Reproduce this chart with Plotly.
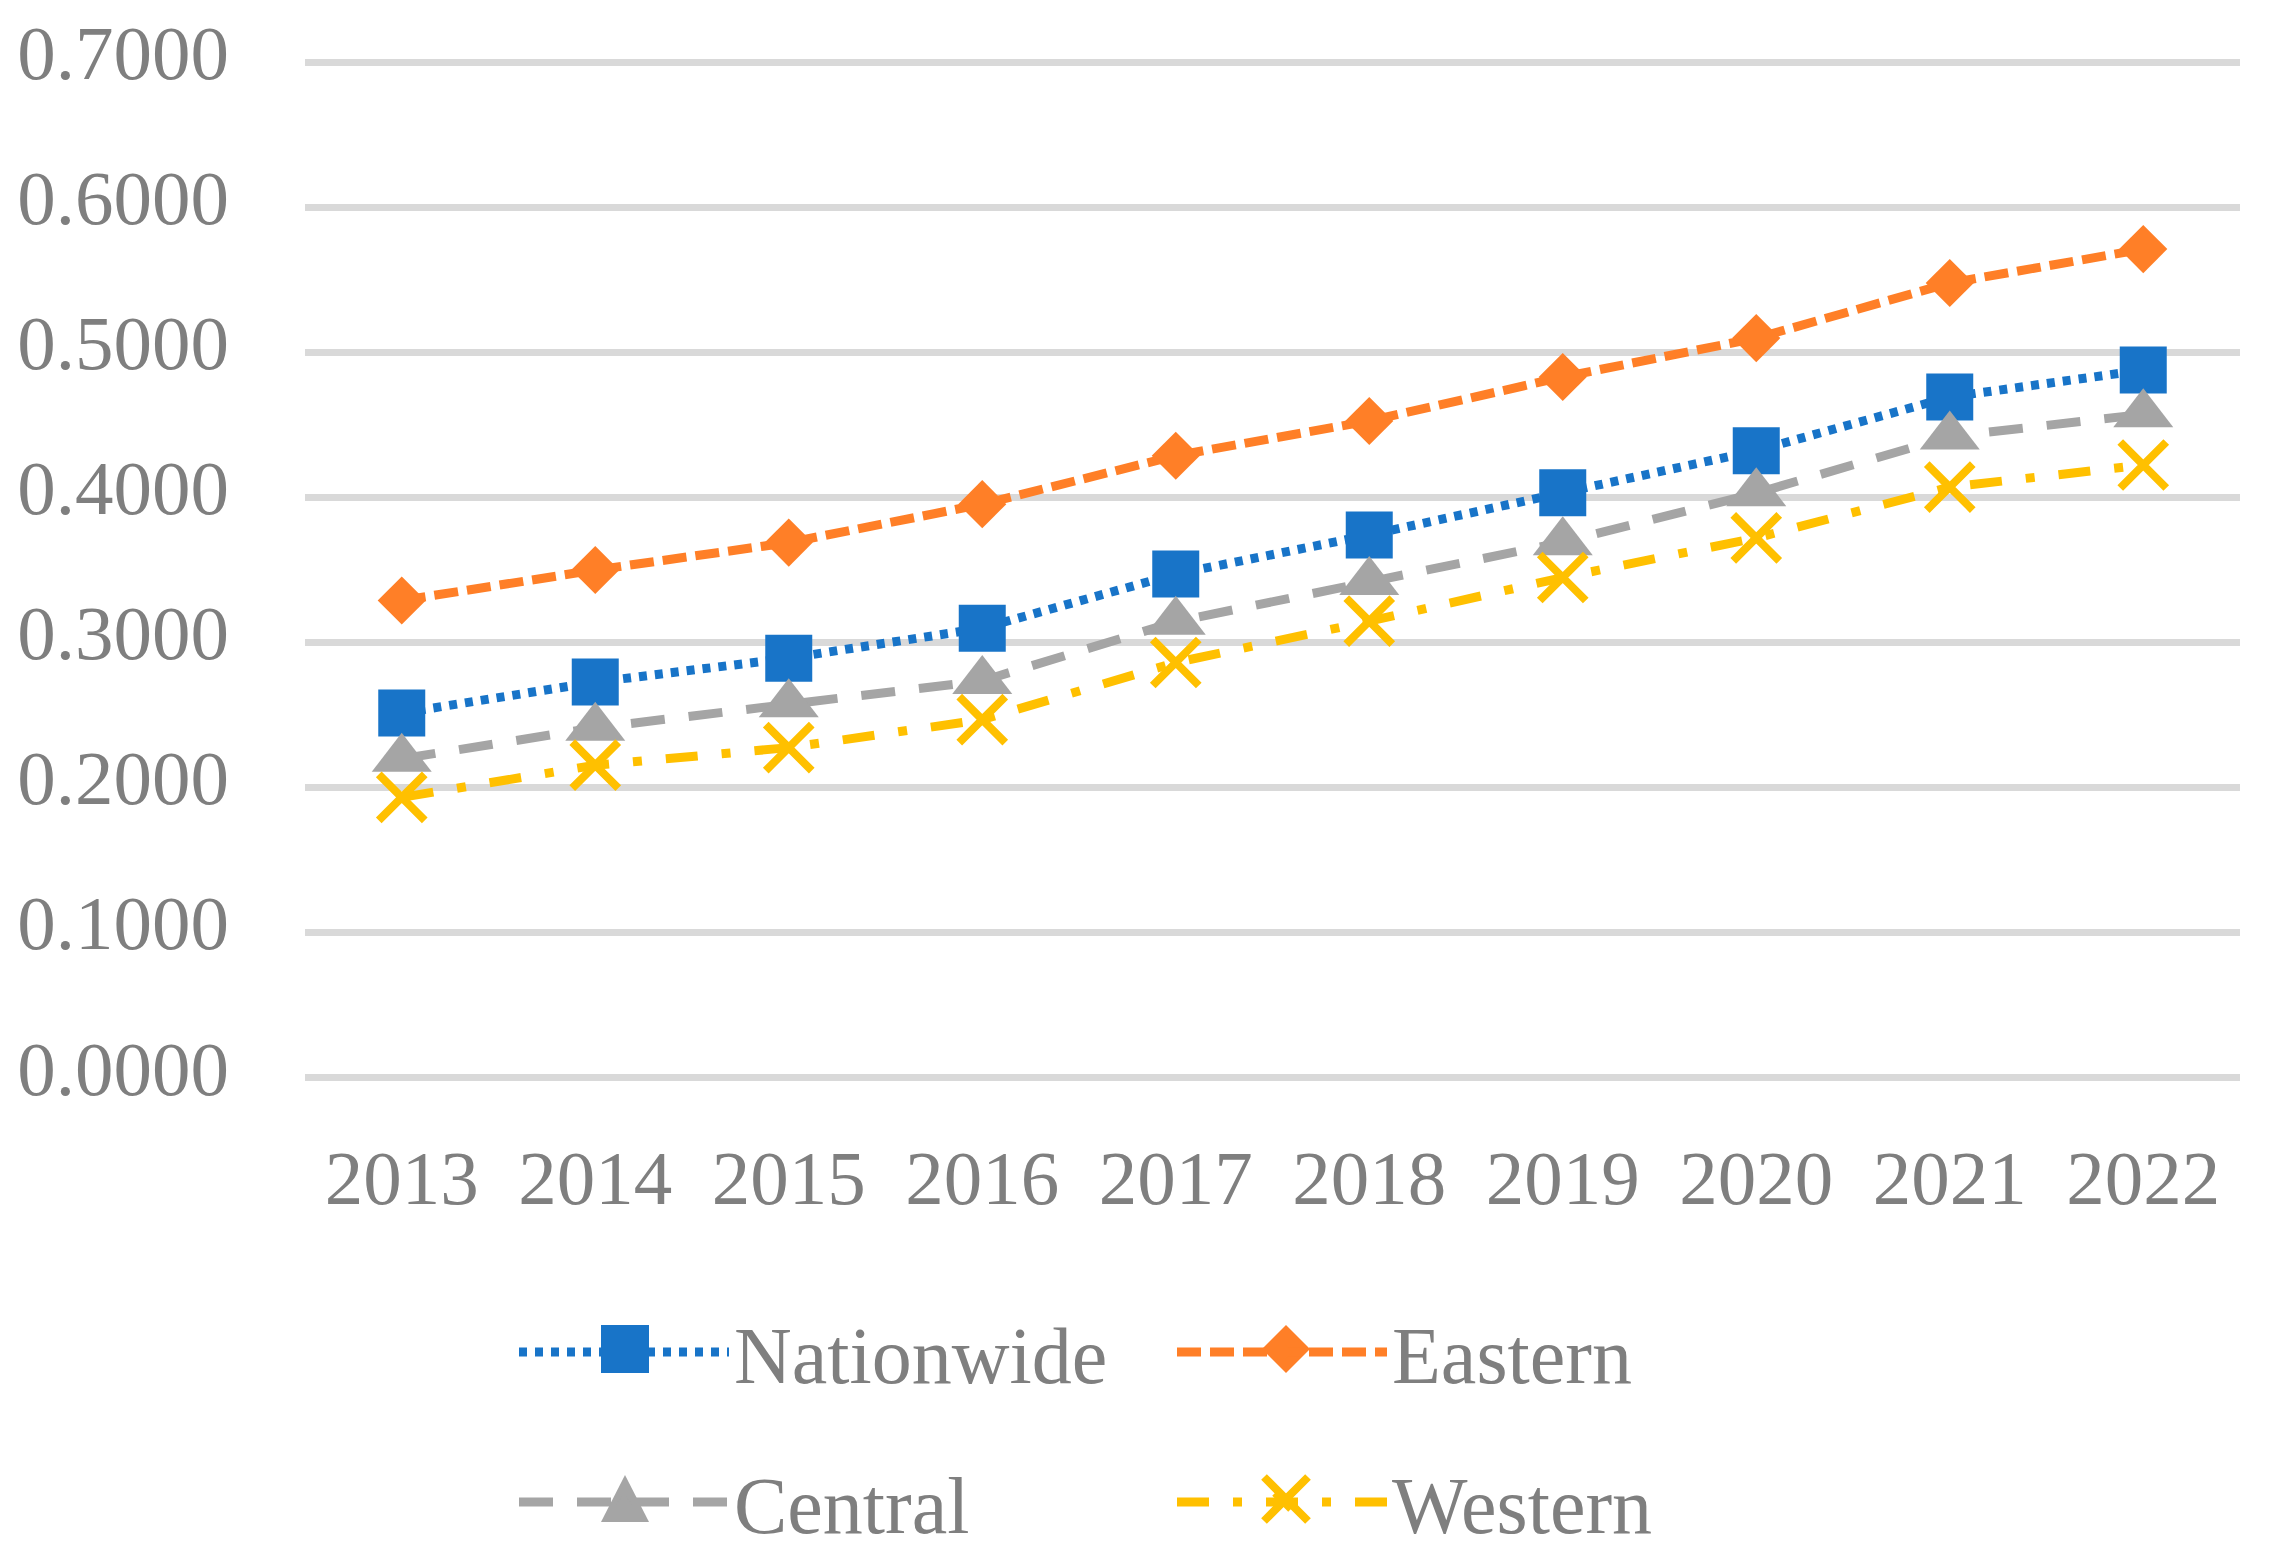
import plotly.graph_objects as go

years = ["2013", "2014", "2015", "2016", "2017", "2018", "2019", "2020", "2021", "2022"]
nationwide = [0.2514, 0.2727, 0.2892, 0.3099, 0.3472, 0.3741, 0.4033, 0.4323, 0.4693, 0.4879]
eastern = [0.3290, 0.3500, 0.3689, 0.3954, 0.4288, 0.4528, 0.4831, 0.5099, 0.5479, 0.5713]
central = [0.2198, 0.2412, 0.2574, 0.2735, 0.3144, 0.3417, 0.3692, 0.4030, 0.4420, 0.4574]
western = [0.1932, 0.2154, 0.2275, 0.2468, 0.2862, 0.3147, 0.3448, 0.3721, 0.4072, 0.4224]
y_ticks = [0.0, 0.1, 0.2, 0.3, 0.4, 0.5, 0.6, 0.7]

FONT = "Liberation Serif"
TXT = "#7F7F7F"
BLUE, ORANGE, GRAY, YELLOW = "#1874C8", "#FF7F27", "#A5A5A5", "#FFC000"

# page has an 8px body margin; figure sized to fit the window exactly
W, H = 2259, 1548
ML, MR, MT, MB = 297, 27, 53, 477
PW, PH = W - ML - MR, H - MT - MB

fig = go.Figure()
fig.add_trace(go.Scatter(
    x=years, y=nationwide, name="Nationwide", mode="lines+markers",
    line=dict(color=BLUE, width=9, dash="8px,8px"),
    marker=dict(symbol="square", size=47, color=BLUE),
    legend="legend"))
fig.add_trace(go.Scatter(
    x=years, y=eastern, name="Eastern", mode="lines+markers",
    line=dict(color=ORANGE, width=9, dash="24px,9px"),
    marker=dict(symbol="diamond", size=37, color=ORANGE),
    legend="legend"))
fig.add_trace(go.Scatter(
    x=years, y=central, name="Central", mode="lines+markers",
    line=dict(color=GRAY, width=9, dash="34px,24px"),
    marker=dict(symbol="triangle-up", size=52, color=GRAY),
    legend="legend2"))
fig.add_trace(go.Scatter(
    x=years, y=western, name="Western", mode="lines+markers",
    line=dict(color=YELLOW, width=9, dash="32px,24px,9px,24px"),
    marker=dict(symbol="x-thin", size=46, color=YELLOW,
                line=dict(color=YELLOW, width=8)),
    legend="legend2"))

leg_common = dict(
    orientation="h", xref="container", yref="container",
    xanchor="left", yanchor="middle",
    font=dict(family=FONT, size=80, color=TXT),
    itemwidth=210, entrywidth=433, entrywidthmode="pixels",
    bgcolor="rgba(0,0,0,0)", itemclick=False, itemdoubleclick=False,
    traceorder="normal",
)


# enlarged legend marker glyphs (legend symbols are capped in size by plotly)
def px_to_paper(px, py):
    return (px - ML) / PW, (MT + PH - py) / PH


def glyph(path, px, py, fill=None, line_color=None, line_width=0):
    xa, ya = px_to_paper(px, py)
    return dict(type="path", xref="paper", yref="paper",
                xsizemode="pixel", ysizemode="pixel",
                xanchor=xa, yanchor=ya, path=path,
                fillcolor=fill if fill else "rgba(0,0,0,0)",
                line=dict(color=line_color or "rgba(0,0,0,0)", width=line_width),
                layer="above")


LEG_X1, LEG_X2 = 617, 1278
LEG_Y1, LEG_Y2 = 1341, 1491
shapes = [
    glyph("M-24,-24L24,-24L24,24L-24,24Z", LEG_X1, LEG_Y1, fill=BLUE),
    glyph("M0,-24L24,0L0,24L-24,0Z", LEG_X2, LEG_Y1, fill=ORANGE),
    glyph("M-24,-23L24,-23L0,24Z", LEG_X1, LEG_Y2, fill=GRAY),
    glyph("M-22,-22L22,22M-22,22L22,-22", LEG_X2, LEG_Y2,
          line_color=YELLOW, line_width=8),
]

fig.update_layout(
    width=W, height=H,
    paper_bgcolor="white", plot_bgcolor="white",
    margin=dict(l=ML, r=MR, t=MT, b=MB, pad=0, autoexpand=False),
    font=dict(family=FONT, size=77, color=TXT),
    showlegend=True,
    legend=dict(x=506 / W, y=1 - 1344 / H, **leg_common),
    legend2=dict(x=506 / W, y=1 - 1494 / H, **leg_common),
    shapes=shapes,
    xaxis=dict(
        type="category", categoryorder="array", categoryarray=years,
        range=[-0.5, 9.5], showgrid=False, zeroline=False, showline=False,
        ticks="", ticklabelstandoff=47,
        tickfont=dict(family=FONT, size=77, color=TXT),
    ),
    yaxis=dict(
        range=[-0.001, 0.701], tickvals=y_ticks, tickformat=".4f",
        showgrid=True, gridcolor="#D9D9D9", gridwidth=6.5,
        zeroline=False, showline=False, ticks="", ticklabelstandoff=75,
        ticklabelshift=-10,
        tickfont=dict(family=FONT, size=77, color=TXT),
    ),
)

fig.write_html("out.html")
